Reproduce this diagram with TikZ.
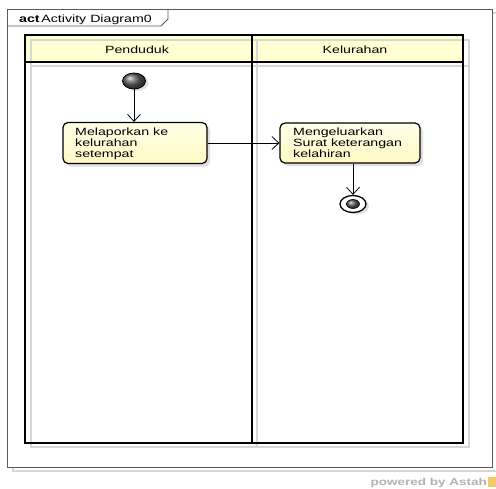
\documentclass[tikz,border=0pt]{standalone}
\usepackage{fontspec}
\setmainfont{Liberation Sans}[FakeStretch=1.35]
\usetikzlibrary{arrows.meta,shadows,shapes.geometric}
\definecolor{laneyellow}{RGB}{255,255,210}
\definecolor{acttop}{RGB}{255,255,232}
\definecolor{actbottom}{RGB}{255,249,196}
\definecolor{framec}{RGB}{90,90,90}
\definecolor{shadowc}{RGB}{215,215,215}
\definecolor{iconc}{RGB}{245,200,110}
\begin{document}
\begin{tikzpicture}[x=1pt,y=-1pt,
  lanelabel/.style={font=\fontsize{10.5}{12}\selectfont, inner sep=0pt},
  activity/.style={draw=black, line width=1.2pt, rounded corners=5pt,
    top color=acttop, bottom color=actbottom,
    drop shadow={shadow xshift=3pt, shadow yshift=-3pt, opacity=0.25}},
  acttext/.style={font=\fontsize{10.5}{10.8}\selectfont, align=left, inner sep=0pt, anchor=north west},
  startnode/.style={ellipse, draw=black, line width=0.8pt, minimum width=23pt, minimum height=16pt,
    inner sep=0pt, shading=ball, ball color=gray!75!black,
    drop shadow={shadow xshift=3pt, shadow yshift=-2pt, opacity=0.25}},
  finalring/.style={ellipse, draw=black, line width=1.3pt, fill=white, minimum width=26pt, minimum height=17pt,
    inner sep=0pt, drop shadow={shadow xshift=3pt, shadow yshift=-2pt, opacity=0.25}},
  finaldot/.style={ellipse, draw=black, line width=0.6pt, minimum width=13pt, minimum height=9pt,
    inner sep=0pt, shading=ball, ball color=gray!75!black},
  flow/.style={draw=black, line width=0.8pt, -{Straight Barb[length=7pt,width=13pt,line width=0.8pt]}}
]
\useasboundingbox (0,0) rectangle (496,488);
\fill[white] (0,0) rectangle (496,488);

% diagram frame with its shadow and title tab
\draw[shadowc, line width=1.2pt] (13,13) rectangle (497,471);
\draw[framec, line width=0.8pt, fill=white] (7,9) rectangle (492,467);
\draw[framec, line width=0.8pt] (7,26) -- (161,26) -- (168,19) -- (168,9);
\node[anchor=base west, inner sep=0pt, font=\fontsize{10.5}{12}\selectfont] (title) at (19,22)
  {\textbf{act}\,Activity Diagram0};

% swimlanes: header fill, shadows, outlines
\fill[laneyellow] (25,35) rectangle (463,62);
\draw[shadowc, line width=2pt] (31,40) rectangle (257,447);
\draw[shadowc, line width=2pt] (257,40) rectangle (469,447);
\draw[shadowc, line width=1.5pt] (31,66) -- (469,66);
\draw[black, line width=1.6pt] (25,35) rectangle (252,443);
\draw[black, line width=1.6pt] (252,35) rectangle (463,443);
\draw[black, line width=1.2pt] (25,62) -- (463,62);
\node[lanelabel] (lane1) at (137,50) {Penduduk};
\node[lanelabel] (lane2) at (355,50) {Kelurahan};

% activity nodes
\node[startnode] (start) at (134,81) {};
\node[activity, minimum width=144pt, minimum height=41pt] (a1) at (135,143) {};
\node[acttext] (a1t) at (75,128) {Melaporkan ke\\kelurahan\\setempat};
\node[activity, minimum width=140pt, minimum height=40pt] (a2) at (350,143) {};
\node[acttext] (a2t) at (293,128) {Mengeluarkan\\Surat keterangan\\kelahiran};
\node[finalring] (end) at (353,204) {};
\node[finaldot] (enddot) at (end) {};

% control flows
\draw[flow] (start.south) -- (start |- a1.north);
\draw[flow] (a1.east) -- (a2.west);
\draw[flow] (end |- a2.south) -- (end.north);

% tool credit
\node[anchor=base east, inner sep=0pt, text=gray!60, font=\bfseries\fontsize{10}{12}\selectfont] (credit) at (487,485) {powered by Astah};
\fill[iconc] (488,477) rectangle (496,487);
\end{tikzpicture}
\end{document}
